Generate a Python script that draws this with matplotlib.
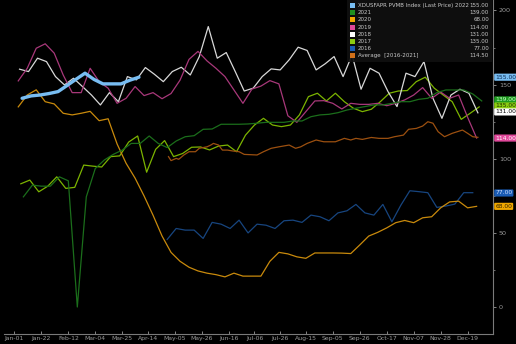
import numpy as np
import pandas as pd
import matplotlib
matplotlib.use('Agg')
import matplotlib.pyplot as plt
import matplotlib.dates as mdates
from matplotlib.patches import Rectangle
from matplotlib.transforms import blended_transform_factory
from matplotlib.ticker import MultipleLocator

# base del eje: año bisiesto, igual que las etiquetas del original
inicio = pd.Timestamp('2020-01-01')

# datos semanales
v2022 = [140.8, 142.4, 143, 144, 145.3, 149.4, 153.6, 157.7, 153.5, 150.5, 150.5, 150.5, 153, 155]
v2021 = [74.4, 82.3, 81.6, 81.6, 87.9, 85.2, 0.2, 74.4, 93.5, 99.2, 103, 105.9, 110.4, 110.4,
         115.4, 110.4, 107.6, 112, 114.9, 115.6, 119.9, 120.1, 123.3, 123.3, 123.3, 123.5, 124,
         124.6, 124.6, 124.6, 125.5, 125.5, 128.4, 129.6, 130, 131.1, 132.9, 134.1, 135.2, 136.3,
         136.3, 137.4, 138.5, 138.5, 140.1, 140.8, 144.6, 146.4, 146.4, 146.4, 143.7, 139]
v2020 = [135, 143, 146.5, 138.5, 137, 130.7, 129.6, 130.7, 132, 125.7, 127, 110, 97, 87, 75, 62,
         48, 37, 31, 27, 24.5, 23, 22, 20.5, 23, 21, 21, 21, 31, 37, 36, 34, 33, 36.6, 36.6, 36.6,
         36.5, 36.2, 42, 48, 50.5, 53.5, 57, 58.5, 57, 60.3, 61, 67, 71, 71.5, 67, 68]
v2019 = [152.5, 161, 174.5, 177.5, 171.2, 156.5, 144.6, 144.6, 161, 152, 147.6, 137.4, 140.8,
         148.7, 142.6, 144.6, 140.5, 144, 153, 167, 172.4, 166, 161, 155.4, 146.4, 137.4, 147,
         149, 152.7, 150.5, 129, 124.6, 131.8, 139, 139.2, 137.4, 133.6, 137.4, 136.7, 136.7,
         137.4, 135.8, 137.4, 139.7, 143, 148, 140.8, 145, 140.8, 143, 128, 114]
v2018 = [160.4, 158.8, 167.8, 165.5, 155.4, 149.8, 154.3, 148.7, 143, 136.3, 144.6, 138.5,
         155.4, 153.2, 161.5, 157, 152, 158.8, 161.7, 156.5, 168.9, 189.1, 167.8, 171.6, 158.8,
         145.7, 147.6, 155.4, 160.6, 159.9, 166.7, 175.2, 173, 159.9, 164, 168.9, 155.4, 170,
         146.9, 161, 157.7, 145.3, 135.2, 157.7, 155.4, 165.5, 140.8, 127.3, 143, 146.9, 144.2, 131]
v2017 = [83.2, 85.7, 77.8, 81.6, 87.9, 80.1, 80.8, 95.8, 95.1, 94.5, 101.5, 102, 111.3, 115.4,
         91, 106.4, 112.3, 101.5, 103.6, 107.8, 108, 106, 108.6, 109.3, 104.8, 116, 122.8, 127.3,
         122.8, 121.7, 122.8, 129.6, 141.9, 144.2, 139, 144.2, 138.5, 134.1, 131.8, 133.4, 138.5,
         144.2, 145.7, 146, 152, 155, 147.6, 143, 138.5, 126.6, 130.7, 135]
v2016 = [45.7, 53.1, 52, 52, 46.4, 57.2, 56, 53.1, 58.7, 50.1, 56, 55.3, 53.1, 58.3, 58.7, 57.2,
         62.1, 61, 58.3, 63.6, 65, 69.3, 63.6, 62.1, 69.3, 57.6, 68.8, 78.5, 77.9, 77.2, 67.3,
         68.2, 69.5, 77.2, 77.2]

# dia del año del primer punto de cada serie (los años caen en dias distintos)
dia0_2022 = 6
dia0_2021 = 7
dia0_2020 = 3
dia0_2019 = 3
dia0_2018 = 4
dia0_2017 = 5
dia0_2016 = 119

# media 2016-2021 (serie diaria, muestreada)
media_dias = [120, 122, 126, 128, 132, 136, 141, 144, 150, 153, 155, 159, 162, 166, 170, 175,
              179, 189, 194, 200, 206, 214, 219, 223, 228, 235, 241, 246, 250, 257, 262, 266,
              271, 278, 284, 291, 296, 303, 307, 313, 318, 322, 326, 330, 335, 341, 345, 349,
              353, 357, 361]
media_vals = [101.5, 98.8, 100.3, 99.7, 102.6, 104.8, 104.8, 107.1, 108.1, 109.3, 110.4, 109.3,
              105.9, 105.9, 105.3, 104.8, 103, 102.6, 104.8, 107.1, 108.1, 109.3, 107.1, 108.1,
              110.4, 112.7, 111.5, 111.5, 111.5, 113.8, 112.7, 113.8, 113.1, 114.4, 113.8, 113.8,
              114.9, 116, 119.9, 120.5, 122.1, 125, 124, 118.3, 114.9, 117.2, 118.3, 119.4, 117.2,
              114.9, 114.5]

ticks_x = ['Jan-01', 'Jan-22', 'Feb-12', 'Mar-04', 'Mar-25', 'Apr-14', 'May-05', 'May-26',
           'Jun-16', 'Jul-06', 'Jul-26', 'Aug-15', 'Sep-05', 'Sep-26', 'Oct-17', 'Nov-07',
           'Nov-28', 'Dec-19']

leyenda = ['XDUSFAPR PVMB Index (Last Price) 2022', '2021', '2020', '2019', '2018', '2017',
           '2016', 'Average  [2016-2021]']
ultimos = [155.00, 139.00, 68.00, 114.00, 131.00, 135.00, 77.00, 114.50]


def fechas_semanales(dia_ini, n):
    return inicio + pd.to_timedelta(dia_ini + 7 * np.arange(n), unit='D')


def main():
    fig = plt.figure(figsize=(5.16, 3.44), dpi=100, facecolor='black')
    ax = fig.add_axes([0.008, 0.029, 0.948, 0.971], facecolor='black')

    series = [
        (v2016, dia0_2016, '#17457f'),
        (v2017, dia0_2017, '#7cb400'),
        (v2018, dia0_2018, '#d8d8d8'),
        (v2019, dia0_2019, '#a8387a'),
        (v2020, dia0_2020, '#c98a0c'),
        (v2021, dia0_2021, '#1b6e1b'),
    ]
    for vals, d0, color in series:
        ax.plot(fechas_semanales(d0, len(vals)), vals, color=color, lw=0.9)

    media_x = inicio + pd.to_timedelta(media_dias, unit='D')
    ax.plot(media_x, media_vals, color='#9c5010', lw=0.9)

    ax.plot(fechas_semanales(dia0_2022, len(v2022)), v2022, color='#78bdf2', lw=2.4,
            solid_capstyle='round')

    ax.set_xlim(inicio - pd.Timedelta(days=8), inicio + pd.Timedelta(days=373))
    ax.set_ylim(-18, 207)

    pos_ticks = [pd.Timestamp('2020-' + t) for t in ticks_x]
    ax.set_xticks(pos_ticks)
    ax.xaxis.set_major_formatter(mdates.DateFormatter('%b-%d'))

    ax.yaxis.tick_right()
    ax.set_yticks([0, 50, 100, 150, 200])
    ax.yaxis.set_minor_locator(MultipleLocator(25))
    ax.tick_params(axis='y', which='major', colors='#9a9a9a', labelsize=4.6, length=2.5,
                   width=0.6, pad=1.5)
    ax.tick_params(axis='y', which='minor', colors='#9a9a9a', length=1.5, width=0.5)
    ax.tick_params(axis='x', colors='#9a9a9a', labelsize=4.4, length=2, width=0.6, pad=1.2,
                   direction='in')

    for lado in ['top', 'left']:
        ax.spines[lado].set_visible(False)
    ax.spines['bottom'].set_color('#7a7a7a')
    ax.spines['right'].set_color('#7a7a7a')
    ax.spines['bottom'].set_linewidth(0.8)
    ax.spines['right'].set_linewidth(0.8)

    # etiquetas de ultimo valor en el eje derecho
    tr = blended_transform_factory(ax.transAxes, ax.transData)
    etiquetas = [
        (155, '155.00', '#78bdf2', '#0a2a50'),
        (139.7, '139.00', '#1f9a1f', '#c8ffc8'),
        (135.6, '135.00', '#8ccc10', '#1a3000'),
        (131.6, '131.00', '#ffffff', '#000000'),
        (114, '114.00', '#e0489a', '#ffffff'),
        (77, '77.00', '#1a5cb4', '#d0e0ff'),
        (68, '68.00', '#f0a800', '#302000'),
    ]
    for y, txt, fc, tc in etiquetas:
        ax.text(1.004, y, txt, transform=tr, fontsize=4.3, color=tc, va='center', ha='left',
                bbox=dict(boxstyle='round,pad=0.18', fc=fc, ec='none'), clip_on=False)

    # leyenda manual con columna de valores
    colores_ley = ['#78bdf2', '#1f8f1f', '#f0a800', '#e0489a', '#ffffff', '#8ccc10', '#1a5cb4',
                   '#d0701a']
    fig.patches.append(Rectangle((347 / 516, 1 - 62 / 344), 145 / 516, 62 / 344,
                                 transform=fig.transFigure, fc='#101010', ec='none',
                                 alpha=0.92, zorder=5))
    for i, (lab, val, col) in enumerate(zip(leyenda, ultimos, colores_ley)):
        yy = 1 - (5.5 + 7.2 * i) / 344
        fig.patches.append(Rectangle((350 / 516, yy - 2.5 / 344), 5 / 516, 5 / 344,
                                     transform=fig.transFigure, fc=col, ec='none', zorder=6))
        fig.text(358 / 516, yy, lab, fontsize=4.0, color='#c8c8c8', va='center', ha='left',
                 zorder=7)
        fig.text(489 / 516, yy, f'{val:.2f}', fontsize=4.0, color='#c8c8c8', va='center',
                 ha='right', zorder=7)

    fig.savefig('out.png', dpi=100, facecolor='black')


if __name__ == '__main__':
    main()
